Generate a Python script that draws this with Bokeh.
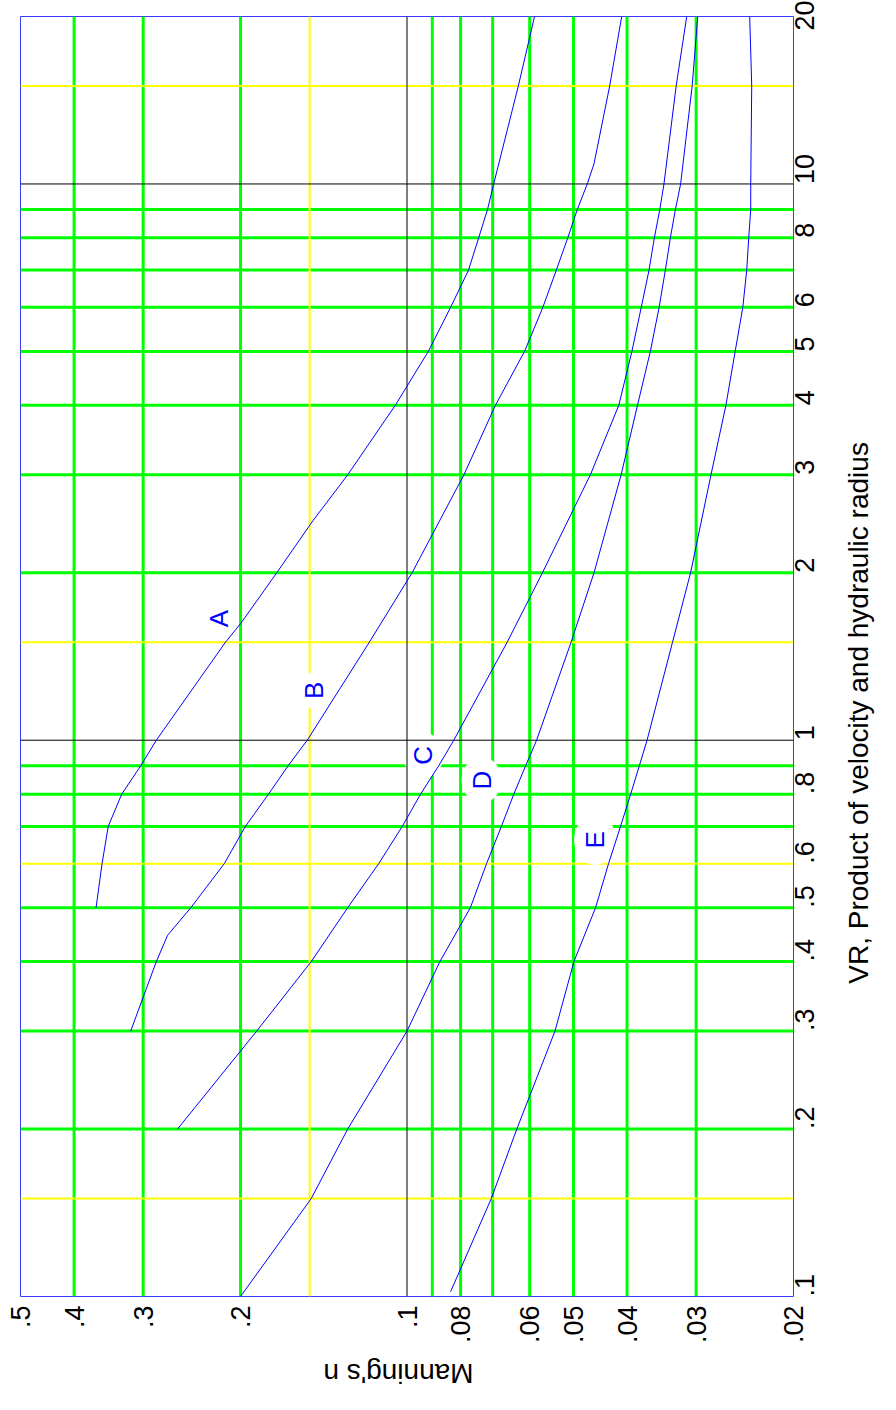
import math
from bokeh.plotting import figure
from bokeh.models import Range1d, FixedTicker, CustomJSTickFormatter, LogAxis
from bokeh.embed import file_html
from bokeh.resources import INLINE
from bokeh.core.properties import value

# ---------------- data ----------------
n_min, n_max = 0.02, 0.5
vr_min, vr_max = 0.1, 20.0

n_ticks = [0.5, 0.4, 0.3, 0.2, 0.1, 0.08, 0.06, 0.05, 0.04, 0.03, 0.02]
n_tick_labels = [".5", ".4", ".3", ".2", ".1", ".08", ".06", ".05", ".04", ".03", ".02"]
vr_ticks = [0.1, 0.2, 0.3, 0.4, 0.5, 0.6, 0.8, 1, 2, 3, 4, 5, 6, 8, 10, 20]
vr_tick_labels = [".1", ".2", ".3", ".4", ".5", ".6", ".8", "1", "2", "3", "4", "5", "6", "8", "10", "20"]

n_grid_green = [0.4, 0.3, 0.2, 0.09, 0.08, 0.07, 0.06, 0.05, 0.04, 0.03]
n_grid_yellow = [0.15]
n_grid_black = [0.1]
vr_grid_green = [0.2, 0.3, 0.4, 0.5, 0.7, 0.8, 0.9, 2, 3, 4, 5, 6, 7, 8, 9]
vr_grid_yellow = [0.15, 0.6, 1.5, 15]
vr_grid_black = [1, 10]

A_vr = [0.5, 0.6, 0.7, 0.8, 0.9, 1.0, 1.5, 1.62, 2, 2.48, 3, 4, 5, 6, 7, 8, 9, 10, 15, 20]
A_n = [0.365, 0.356, 0.347, 0.328, 0.303, 0.284, 0.213, 0.200, 0.172, 0.148, 0.128, 0.105,
       0.0915, 0.0834, 0.0774, 0.0742, 0.0715, 0.0697, 0.0629, 0.0588]

B_vr = [0.3, 0.4, 0.446, 0.5, 0.6, 0.7, 0.8, 0.9, 1.0, 1.5, 2, 3, 4, 5, 6, 7, 8, 9, 10, 10.87, 15, 20]
B_n = [0.316, 0.284, 0.271, 0.246, 0.214, 0.196, 0.178, 0.164, 0.1515, 0.117, 0.0979, 0.0789,
       0.0692, 0.0613, 0.0568, 0.0537, 0.0512, 0.0492, 0.0472, 0.0459, 0.0430, 0.0409]

C_vr = [0.2, 0.3, 0.4, 0.5, 0.6, 0.7, 0.8, 0.9, 1.0, 1.5, 2, 3, 4, 5, 6, 7, 8, 9, 10, 15, 20]
C_n = [0.260, 0.187, 0.149, 0.128, 0.1125, 0.102, 0.0945, 0.0876, 0.0823, 0.0659, 0.0569,
       0.0466, 0.0414, 0.0392, 0.0377, 0.0365, 0.0357, 0.0349, 0.0343, 0.0326, 0.0312]

D_vr = [0.1, 0.15, 0.2, 0.3, 0.4, 0.5, 0.6, 0.7, 0.8, 0.9, 1.0, 1.5, 2, 3, 4, 5, 6, 7, 8, 9, 10, 15, 20]
D_n = [0.200, 0.149, 0.128, 0.100, 0.0872, 0.0768, 0.0718, 0.0675, 0.0641, 0.0610, 0.0583,
       0.0505, 0.0459, 0.0410, 0.0383, 0.0363, 0.0350, 0.0341, 0.0334, 0.0327, 0.0320, 0.0305, 0.0298]

E_vr = [0.102, 0.15, 0.2, 0.3, 0.4, 0.5, 0.6, 0.7, 0.8, 0.9, 1.0, 1.5, 2, 3, 4, 5, 6, 7, 8, 9, 10, 15, 20]
E_n = [0.0834, 0.0704, 0.0633, 0.0540, 0.0499, 0.0456, 0.0432, 0.0411, 0.0394, 0.0380, 0.0368,
       0.0331, 0.0307, 0.0282, 0.0265, 0.0255, 0.0247, 0.0243, 0.0241, 0.0239, 0.0239, 0.0238, 0.0240]

curve_names = ["A", "B", "C", "D", "E"]
label_n = [0.219, 0.1476, 0.0934, 0.0733, 0.0457]
label_vr = [1.655, 1.229, 0.939, 0.848, 0.662]

x_title = "Manning's n"
y_title = "VR, Product of velocity and hydraulic radius"
x_title_at = 0.1416  # n value at the end of the (upside-down) x title
y_title_at = 0.365   # VR value at the start of the y title

# ---------------- figure ----------------
FONT = "Liberation Sans"
p = figure(width=892, height=1408,
           x_axis_type="log", y_axis_type="log",
           x_range=Range1d(n_max, n_min), y_range=Range1d(vr_min, vr_max),
           y_axis_location="right",
           output_backend="svg", toolbar_location=None,
           min_border_left=20, min_border_right=99, min_border_top=16, min_border_bottom=112)
p.xgrid.visible = False
p.ygrid.visible = False
p.background_fill_color = "white"
p.border_fill_color = "white"
p.outline_line_color = "#3a3aff"
p.outline_line_width = 1

fmt_code = ("const i = tv.findIndex(t => Math.abs(t - tick) < 1e-9);"
            "return i >= 0 ? tl[i] : '';")


def style_axis(ax, size):
    ax.axis_line_color = None
    ax.major_tick_line_color = None
    ax.minor_tick_line_color = None
    ax.major_tick_out = 0
    ax.major_tick_in = 0
    ax.major_label_text_font = FONT
    ax.major_label_text_font_size = size
    ax.major_label_text_color = "black"


for ax, ticks, labels in ((p.xaxis[0], n_ticks, n_tick_labels), (p.yaxis[0], vr_ticks, vr_tick_labels)):
    ax.ticker = FixedTicker(ticks=ticks, minor_ticks=[])
    ax.formatter = CustomJSTickFormatter(args=dict(tv=ticks, tl=labels), code=fmt_code)
    style_axis(ax, "27px")
    ax.major_label_orientation = math.pi / 2

p.xaxis[0].major_label_standoff = 9
p.yaxis[0].major_label_standoff = 11

# axis titles drawn as single-tick extra axes so they can be placed along the side
x_title_axis = LogAxis(ticker=FixedTicker(ticks=[x_title_at], minor_ticks=[]),
                       formatter=CustomJSTickFormatter(args=dict(t=x_title), code="return t;"))
style_axis(x_title_axis, "28px")
x_title_axis.major_label_orientation = math.pi
x_title_axis.major_label_standoff = 27
p.add_layout(x_title_axis, "below")

y_title_axis = LogAxis(ticker=FixedTicker(ticks=[y_title_at], minor_ticks=[]),
                       formatter=CustomJSTickFormatter(args=dict(t=y_title), code="return t;"))
style_axis(y_title_axis, "28px")
y_title_axis.major_label_orientation = math.pi / 2
y_title_axis.major_label_standoff = 32
p.add_layout(y_title_axis, "right")


# coloured grid lines
def vlines(vals, color, width):
    p.segment(x0=vals, y0=[vr_min] * len(vals), x1=vals, y1=[vr_max] * len(vals),
              line_color=color, line_width=width)


def hlines(vals, color, width):
    p.segment(x0=[n_max] * len(vals), y0=vals, x1=[n_min] * len(vals), y1=vals,
              line_color=color, line_width=width)


vlines(n_grid_green, "#00ff00", 3)
hlines(vr_grid_green, "#00ff00", 3)
vlines(n_grid_yellow, "#ffff00", 2)
hlines(vr_grid_yellow, "#ffff00", 2)

# white gaps around curve labels (B..E)
p.ellipse(x=label_n[1:], y=label_vr[1:], width=[30, 40, 40, 42], height=[36, 46, 46, 50],
          width_units="screen", height_units="screen", fill_color="white", line_color=None)

vlines(n_grid_black, "black", 1)
hlines(vr_grid_black, "black", 1)

for vr, n in ((A_vr, A_n), (B_vr, B_n), (C_vr, C_n), (D_vr, D_n), (E_vr, E_n)):
    p.line(x=n, y=vr, line_color="#0000ff", line_width=1)

p.text(x=label_n, y=label_vr, text=curve_names, angle=math.pi / 2,
       text_align="center", text_baseline="middle", text_color="#0000ff",
       text_font=value(FONT), text_font_size="26px")

open("out.html", "w").write(file_html(p, INLINE))
